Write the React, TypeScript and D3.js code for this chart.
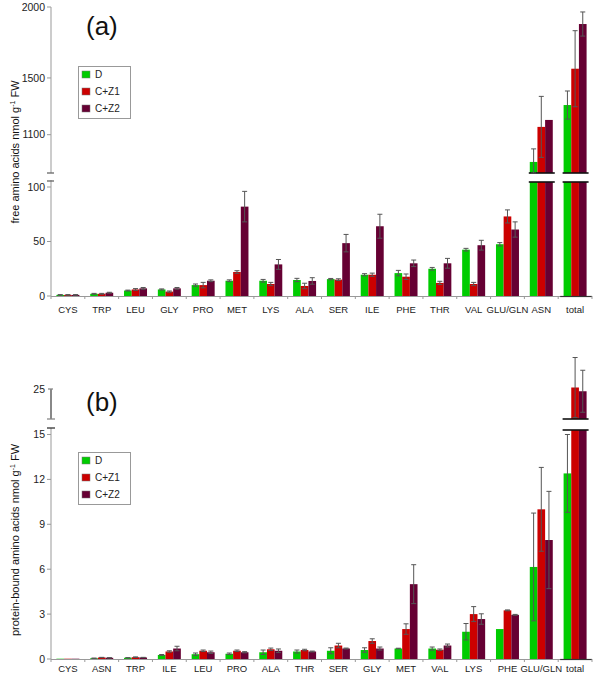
import React, { useEffect, useRef } from "react";
import * as d3 from "d3";

const series = ["D", "C+Z1", "C+Z2"];
const colors = ["#00cc00", "#cc0000", "#660033"];

// panel (a): free amino acids
const catsA = ["CYS", "TRP", "LEU", "GLY", "PRO", "MET", "LYS", "ALA", "SER", "ILE", "PHE", "THR", "VAL", "GLU/GLN", "ASN", "total"];
const freeD = [1, 2, 5, 6, 10, 14, 14, 14.7, 15.5, 19.5, 21, 25, 42.5, 47.5, 908, 1309];
const freeZ1 = [1, 2, 6, 4, 10, 22, 11, 9.2, 15, 19.5, 17.7, 12, 11, 73, 1155, 1565];
const freeZ2 = [1, 3, 7, 7, 14, 82, 29, 13.8, 48.5, 64, 30, 30, 46.6, 61, 1204, 1880];
const freeDsd = [0.3, 0.4, 0.4, 0.5, 1, 0.8, 1.2, 1.5, 0.6, 1, 2.5, 1.2, 1.2, 1.5, 92, 99];
const freeZ1sd = [0.3, 0.4, 0.8, 0.6, 2.5, 1.2, 1.5, 2.5, 0.8, 1.5, 2.5, 1.5, 1.5, 6, 215, 268];
const freeZ2sd = [0.3, 0.4, 0.8, 0.8, 0.8, 14, 4.5, 3, 8, 11, 3, 4.5, 4.5, 7, 0, 85];
const ticksALow = [0, 50, 100];
const ticksAHigh = [1100, 1500, 2000];

// panel (b): protein-bound amino acids
const catsB = ["CYS", "ASN", "TRP", "ILE", "LEU", "PRO", "ALA", "THR", "SER", "GLY", "MET", "VAL", "LYS", "PHE", "GLU/GLN", "total"];
const protD = [0.02, 0.05, 0.08, 0.27, 0.32, 0.35, 0.45, 0.5, 0.55, 0.6, 0.7, 0.7, 1.82, 2.0, 6.15, 12.4];
const protZ1 = [0.02, 0.1, 0.12, 0.5, 0.55, 0.55, 0.65, 0.6, 0.9, 1.2, 2.0, 0.62, 3.0, 3.25, 10.0, 25.1];
const protZ2 = [0.02, 0.08, 0.1, 0.7, 0.45, 0.45, 0.55, 0.5, 0.7, 0.7, 5.0, 0.9, 2.67, 2.95, 7.95, 24.85];
const protDsd = [0, 0.01, 0.01, 0.03, 0.08, 0.05, 0.15, 0.1, 0.2, 0.15, 0.02, 0.1, 0.55, 0, 3.6, 2.6];
const protZ1sd = [0, 0.01, 0.02, 0.05, 0.05, 0.05, 0.08, 0.05, 0.15, 0.15, 0.35, 0.05, 0.5, 0.03, 2.8, 2.0];
const protZ2sd = [0, 0.01, 0.01, 0.15, 0.08, 0.04, 0.12, 0.03, 0.03, 0.1, 1.3, 0.1, 0.35, 0.03, 3.25, 1.4];
const ticksBLow = [0, 3, 6, 9, 12, 15];
const ticksBHigh = [25];

const FONT = "'Liberation Sans', Arial, sans-serif";
const AXIS = "#999";
const X0 = 51;
const X1 = 592;

interface Panel {
  cats: string[];
  values: number[][];
  sds: number[][];
  y0: number; // baseline pixel
  lowTop: number; // top of lower segment (px)
  lowMax: number;
  highBottom: number; // bottom of upper segment (px)
  highDomain: [number, number];
  highTop: number;
  ticksLow: number[];
  ticksHigh: number[];
  label: string;
  labelY: number;
  catLabelDy: number;
  title: string;
  titleY: number;
  legendY: number;
  axisBreak: "marks" | "segment";
}

function drawPanel(svg: d3.Selection<SVGSVGElement, unknown, null, undefined>, p: Panel) {
  const g = svg.append("g");
  const x = d3.scaleBand<string>().domain(p.cats).range([X0, X1]).paddingInner(0.32).paddingOuter(0.16);
  const xs = d3.scaleBand<string>().domain(series).range([0, x.bandwidth()]);
  const yLow = d3.scaleLinear().domain([0, p.lowMax]).range([p.y0, p.lowTop]);
  const yHigh = d3.scaleLinear().domain(p.highDomain).range([p.highBottom, p.highTop]);
  const step = (X1 - X0) / p.cats.length;

  // bars
  p.cats.forEach((c, ci) => {
    let broken = false;
    series.forEach((s, si) => {
      const v = p.values[si][ci];
      const bx = x(c)! + xs(s)!;
      const bw = xs.bandwidth();
      if (v <= p.lowMax) {
        g.append("rect").attr("x", bx).attr("width", bw)
          .attr("y", yLow(v)).attr("height", p.y0 - yLow(v))
          .attr("fill", colors[si]);
      } else {
        broken = true;
        g.append("rect").attr("x", bx).attr("width", bw)
          .attr("y", p.lowTop).attr("height", p.y0 - p.lowTop)
          .attr("fill", colors[si]);
        g.append("rect").attr("x", bx).attr("width", bw)
          .attr("y", yHigh(v)).attr("height", p.highBottom - yHigh(v))
          .attr("fill", colors[si]);
      }
    });
    if (broken) {
      const gx0 = x(c)!;
      const gx1 = gx0 + x.bandwidth();
      [p.highBottom, p.lowTop].forEach((yy) => {
        g.append("line").attr("x1", gx0 - 1).attr("x2", gx1 + 2).attr("y1", yy).attr("y2", yy)
          .attr("stroke", "#111").attr("stroke-width", 1.6);
      });
    }
    // error bars
    series.forEach((s, si) => {
      const v = p.values[si][ci];
      const sd = p.sds[si][ci];
      if (sd <= 0) return;
      const cx = x(c)! + xs(s)! + xs.bandwidth() / 2;
      let yt: number, yb: number;
      if (v <= p.lowMax) {
        yt = yLow(Math.min(v + sd, p.lowMax));
        yb = yLow(Math.max(v - sd, 0));
      } else {
        yt = yHigh(v + sd);
        yb = Math.min(yHigh(v - sd), p.highBottom);
      }
      g.append("line").attr("x1", cx).attr("x2", cx).attr("y1", yt).attr("y2", yb)
        .attr("stroke", "#555").attr("stroke-width", 1);
      [yt, yb].forEach((yy) => {
        g.append("line").attr("x1", cx - 2.5).attr("x2", cx + 2.5).attr("y1", yy).attr("y2", yy)
          .attr("stroke", "#555").attr("stroke-width", 1);
      });
    });
  });

  // x axis
  g.append("line").attr("x1", X0).attr("x2", X1).attr("y1", p.y0 + 0.5).attr("y2", p.y0 + 0.5)
    .attr("stroke", AXIS);
  g.append("line").attr("x1", X0 + step * (p.cats.length - 1) + 2).attr("x2", X1)
    .attr("y1", p.y0 + 0.5).attr("y2", p.y0 + 0.5).attr("stroke", "#333").attr("stroke-width", 1.2);
  d3.range(p.cats.length + 1).forEach((i) => {
    const tx = X0 + step * i;
    g.append("line").attr("x1", tx).attr("x2", tx).attr("y1", p.y0).attr("y2", p.y0 + 3).attr("stroke", AXIS);
  });
  g.selectAll(null).data(p.cats).enter().append("text")
    .attr("x", (d) => x(d)! + x.bandwidth() / 2).attr("y", p.y0 + p.catLabelDy)
    .attr("text-anchor", "middle").attr("font-family", FONT).attr("font-size", 9.5).attr("fill", "#222")
    .text((d) => d);

  // y axis, lower segment
  g.append("line").attr("x1", X0).attr("x2", X0).attr("y1", p.lowTop - 2).attr("y2", p.y0).attr("stroke", AXIS);
  p.ticksLow.forEach((t) => {
    g.append("line").attr("x1", X0 - 4).attr("x2", X0).attr("y1", yLow(t)).attr("y2", yLow(t)).attr("stroke", AXIS);
    g.append("text").attr("x", X0 - 6).attr("y", yLow(t)).attr("dy", "0.35em")
      .attr("text-anchor", "end").attr("font-family", FONT).attr("font-size", 10.5).attr("fill", "#222").text(t);
  });
  // y axis, upper segment
  if (p.axisBreak === "marks") {
    g.append("line").attr("x1", X0).attr("x2", X0).attr("y1", p.highTop).attr("y2", p.highBottom).attr("stroke", AXIS);
    [p.highBottom, p.lowTop - 1].forEach((yy) => {
      g.append("line").attr("x1", X0 - 4).attr("x2", X0 + 3).attr("y1", yy).attr("y2", yy)
        .attr("stroke", "#666").attr("stroke-width", 1.3);
    });
  } else {
    g.append("line").attr("x1", X0).attr("x2", X0).attr("y1", p.highTop).attr("y2", p.highBottom)
      .attr("stroke", "#888").attr("stroke-width", 2);
    g.append("line").attr("x1", X0 - 3).attr("x2", X0 + 2).attr("y1", p.highTop).attr("y2", p.highTop)
      .attr("stroke", "#888").attr("stroke-width", 1.3);
    g.append("line").attr("x1", X0 - 4).attr("x2", X0 + 4).attr("y1", p.highBottom).attr("y2", p.highBottom)
      .attr("stroke", "#888").attr("stroke-width", 1.3);
    g.append("line").attr("x1", X0 - 4).attr("x2", X0 + 4).attr("y1", p.lowTop - 2).attr("y2", p.lowTop - 2)
      .attr("stroke", "#333").attr("stroke-width", 1.3);
  }
  p.ticksHigh.forEach((t) => {
    if (p.axisBreak === "marks") {
      g.append("line").attr("x1", X0 - 4).attr("x2", X0).attr("y1", yHigh(t)).attr("y2", yHigh(t)).attr("stroke", AXIS);
    }
    g.append("text").attr("x", X0 - 6).attr("y", yHigh(t)).attr("dy", "0.35em")
      .attr("text-anchor", "end").attr("font-family", FONT).attr("font-size", 10.5).attr("fill", "#222").text(t);
  });

  // y title
  const tt = g.append("text")
    .attr("transform", `translate(19,${p.titleY}) rotate(-90)`)
    .attr("text-anchor", "middle").attr("font-family", FONT).attr("font-size", 11).attr("fill", "#111");
  tt.append("tspan").text(p.title + " nmol g");
  tt.append("tspan").attr("font-size", 7).attr("dy", -4).text("-1");
  tt.append("tspan").attr("dy", 4).text(" FW");

  // panel label
  g.append("text").attr("x", 86).attr("y", p.labelY).attr("font-family", FONT).attr("font-size", 26)
    .attr("fill", "#111").text(p.label);

  // legend
  const lg = g.append("g").attr("transform", `translate(78,${p.legendY})`);
  lg.append("rect").attr("x", 0.5).attr("y", 0.5).attr("width", 52).attr("height", 52)
    .attr("fill", "white").attr("stroke", "#999");
  series.forEach((s, i) => {
    const yy = 8 + i * 17;
    lg.append("rect").attr("x", 4).attr("y", yy - 3).attr("width", 8).attr("height", 7)
      .attr("fill", colors[i]).attr("stroke", "#777").attr("stroke-width", 0.5);
    lg.append("text").attr("x", 17).attr("y", yy + 1).attr("dy", "0.32em").attr("font-family", FONT)
      .attr("font-size", 10).attr("fill", "#222").text(s);
  });
}

const App: React.FC = () => {
  const svgRef = useRef<SVGSVGElement>(null);

  useEffect(() => {
    if (!svgRef.current) return;
    const svg = d3.select(svgRef.current);
    svg.selectAll("*").remove();

    drawPanel(svg, {
      cats: catsA,
      values: [freeD, freeZ1, freeZ2],
      sds: [freeDsd, freeZ1sd, freeZ2sd],
      y0: 296,
      lowTop: 182,
      lowMax: 104.6,
      highBottom: 173,
      highDomain: [830, 2000],
      highTop: 7,
      ticksLow: ticksALow,
      ticksHigh: ticksAHigh,
      label: "(a)",
      labelY: 35,
      catLabelDy: 16.5,
      title: "free amino acids",
      titleY: 152,
      legendY: 66,
      axisBreak: "marks",
    });

    drawPanel(svg, {
      cats: catsB,
      values: [protD, protZ1, protZ2],
      sds: [protDsd, protZ1sd, protZ2sd],
      y0: 659,
      lowTop: 430,
      lowMax: 15.3,
      highBottom: 419,
      highDomain: [23, 25],
      highTop: 389,
      ticksLow: ticksBLow,
      ticksHigh: ticksBHigh,
      label: "(b)",
      labelY: 411,
      catLabelDy: 13,
      title: "protein-bound amino acids",
      titleY: 540,
      legendY: 452,
      axisBreak: "segment",
    });

    return () => {
      svg.selectAll("*").remove();
    };
  }, []);

  return (
    <svg
      ref={svgRef}
      width={600}
      height={675}
      style={{ position: "absolute", left: 0, top: 0, background: "white" }}
    />
  );
};

export default App;
